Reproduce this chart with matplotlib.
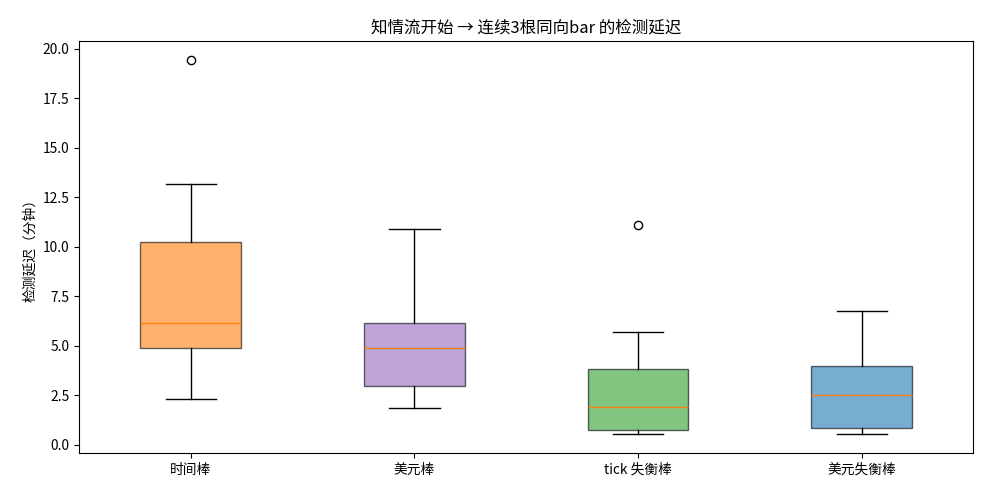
import matplotlib
matplotlib.use("Agg")
import matplotlib.pyplot as plt

plt.rcParams['font.family'] = ['Noto Sans CJK SC', 'DejaVu Sans']

categories = ["时间棒", "美元棒", "tick 失衡棒", "美元失衡棒"]
whislo = [2.31, 1.85, 0.54, 0.54]
q1 = [4.89, 2.97, 0.74, 0.86]
med = [6.16, 4.89, 1.90, 2.50]
q3 = [10.26, 6.14, 3.81, 3.96]
whishi = [13.18, 10.90, 5.70, 6.77]
fliers = [[19.44], [], [11.09], []]
colors = ["#ff7f0e", "#9467bd", "#2ca02c", "#1f77b4"]

stats = []
for i, c in enumerate(categories):
    stats.append(dict(label=c, whislo=whislo[i], q1=q1[i], med=med[i],
                      q3=q3[i], whishi=whishi[i], fliers=fliers[i]))

fig, ax = plt.subplots(figsize=(10, 5), dpi=99)
fig.subplots_adjust(left=0.0798, right=0.9833, top=0.917, bottom=0.085)
bp = ax.bxp(stats, patch_artist=True, widths=0.45)
for patch, col in zip(bp['boxes'], colors):
    patch.set_facecolor(col)
    patch.set_alpha(0.6)
for m in bp['medians']:
    m.set_color("#ff7f0e")

ax.set_title("知情流开始 → 连续3根同向bar 的检测延迟")
ax.set_ylabel("检测延迟（分钟）")
fig.savefig("out.png")
